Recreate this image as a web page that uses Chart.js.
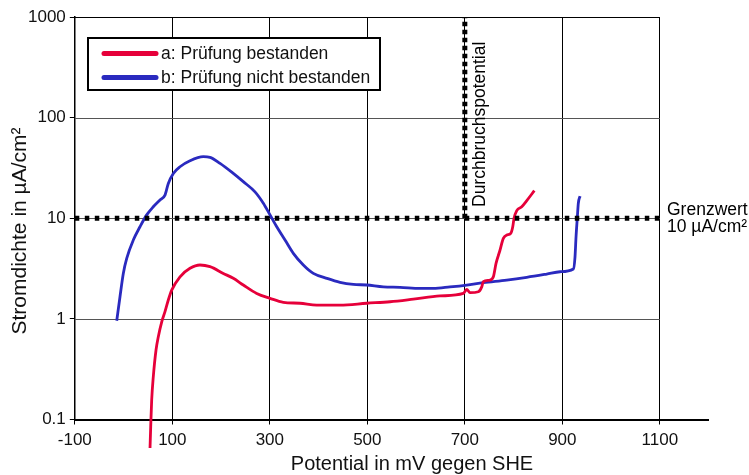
<!DOCTYPE html>
<html><head><meta charset="utf-8">
<script src="https://cdn.jsdelivr.net/npm/chart.js@4/dist/chart.umd.min.js"></script>
<style>html,body{margin:0;padding:0;background:#fff}#wrap{width:749px;height:475px;position:relative}</style>
</head><body><div id="wrap"><canvas id="c"></canvas></div>
<script>
// ---- data ----
const seriesLabels = ['a: Prüfung bestanden', 'b: Prüfung nicht bestanden'];
const aPotential = [54.3, 55.7, 57.7, 61.0, 66.6, 71.3, 78.3, 85.0, 91.8, 98.8, 115.8, 136.3, 156.8, 177.3, 204.6, 225.1, 245.6, 273.1, 300.4, 327.7, 361.9, 396.2, 444.0, 498.8, 546.6, 594.4, 649.1, 696.9, 703.9, 710.6, 727.7, 734.7, 737.9, 751.7, 758.5, 764.0, 771.5, 779.0, 786.0, 794.2, 798.3, 800.9, 806.5, 816.7, 828.2, 842.6];
const aCurrent   = [0.052, 0.085, 0.156, 0.266, 0.49, 0.664, 0.936, 1.18, 1.54, 1.93, 2.62, 3.18, 3.43, 3.30, 2.83, 2.53, 2.17, 1.79, 1.60, 1.46, 1.43, 1.37, 1.37, 1.43, 1.48, 1.57, 1.69, 1.79, 1.96, 1.82, 1.86, 2.08, 2.34, 2.43, 2.62, 3.56, 4.7, 6.31, 6.81, 7.08, 8.23, 9.97, 11.9, 13.0, 15.2, 18.8];
const bPotential = [-14.0, -7.3, -0.5, 6.5, 20.0, 33.7, 47.5, 61.0, 74.8, 85.0, 91.8, 102.1, 115.8, 136.3, 163.6, 177.3, 197.9, 225.1, 245.6, 269.6, 286.7, 300.4, 314.2, 331.2, 348.2, 368.7, 389.2, 416.7, 444.0, 471.3, 498.8, 532.8, 567.1, 608.1, 635.4, 669.5, 703.9, 737.9, 785.9, 827.0, 868.0, 895.3, 922.6, 926.0, 928.1, 930.8, 932.8, 936.3];
const bCurrent   = [0.957, 1.66, 2.83, 3.99, 6.07, 8.23, 10.8, 13.0, 15.2, 17.0, 22.2, 27.9, 32.5, 37.3, 40.9, 40.3, 35.1, 27.9, 23.1, 18.3, 14.1, 10.8, 8.23, 6.07, 4.48, 3.43, 2.83, 2.53, 2.31, 2.20, 2.17, 2.08, 2.06, 2.01, 2.01, 2.08, 2.17, 2.29, 2.43, 2.59, 2.79, 2.94, 3.13, 4.14, 6.55, 10.3, 14.1, 16.6];
const xTicks = [-100, 100, 300, 500, 700, 900, 1100];
const xMax = 1200;
const yTicks = [0.1, 1, 10, 100, 1000];
const yTickLabels = ['0.1', '1', '10', '100', '1000'];
const limitCurrent = 10;
const breakdownPotential = 700;
const xTitle = 'Potential in mV gegen SHE';
const yTitle = 'Stromdichte in µA/cm²';
const limitLabel = ['Grenzwert', '10 µA/cm²'];
const breakdownLabel = 'Durchbruchspotential';

const RED = '#E6003A', BLUE = '#2A2ABF';
const FONT = "'Liberation Sans', Arial, sans-serif";
Chart.defaults.font.family = FONT;
Chart.defaults.color = '#000';

const toPts = (xs, ys) => xs.map((v, i) => ({x: v, y: ys[i]}));

const decor = {
  id: 'decor',
  beforeDatasetsDraw(chart) {
    const {ctx, scales: {x, y}} = chart;
    const x0 = x.getPixelForValue(xTicks[0]);
    const x1 = x.getPixelForValue(xTicks[xTicks.length - 1]);
    ctx.save();
    yTicks.forEach((v, i) => {
      if (i === 0) return;
      const py = Math.round(y.getPixelForValue(v)) + 0.5;
      ctx.strokeStyle = v === yTicks[yTicks.length - 1] ? '#000' : '#555';
      ctx.lineWidth = 1;
      ctx.beginPath(); ctx.moveTo(x0, py); ctx.lineTo(x1, py); ctx.stroke();
    });
    ctx.restore();
  },
  afterDraw(chart) {
    const {ctx} = chart;
    ctx.save();
    // legend
    ctx.fillStyle = '#fff';
    ctx.fillRect(88, 38, 292, 52);
    ctx.strokeStyle = '#000'; ctx.lineWidth = 2;
    ctx.strokeRect(88, 38, 292, 52);
    const rows = [53.5, 77.5];
    chart.data.datasets.filter(d => d.label).forEach((d, i) => {
      ctx.strokeStyle = d.borderColor; ctx.lineWidth = 5; ctx.lineCap = 'round';
      ctx.beginPath(); ctx.moveTo(104, rows[i]); ctx.lineTo(156, rows[i]); ctx.stroke();
      ctx.fillStyle = '#111'; ctx.font = '17.5px ' + FONT;
      ctx.textAlign = 'left'; ctx.textBaseline = 'middle';
      ctx.fillText(d.label, 161, rows[i] + 1);
    });
    // annotations
    ctx.fillStyle = '#000';
    ctx.font = '17.5px ' + FONT;
    ctx.textBaseline = 'alphabetic'; ctx.textAlign = 'left';
    ctx.fillText(limitLabel[0], 667, 214.5);
    ctx.fillText(limitLabel[1], 667, 231.5);
    ctx.save();
    ctx.translate(485, 207); ctx.rotate(-Math.PI / 2);
    ctx.fillText(breakdownLabel, 0, 0);
    ctx.restore();
    // axis titles
    ctx.font = '20px ' + FONT; ctx.fillStyle = '#111';
    ctx.textAlign = 'center';
    ctx.fillText(xTitle, 412, 470);
    ctx.save();
    ctx.translate(26, 231); ctx.rotate(-Math.PI / 2);
    ctx.font = '21px ' + FONT;
    ctx.fillText(yTitle, 0, 0);
    ctx.restore();
    ctx.restore();
  }
};

new Chart(document.getElementById('c'), {
  type: 'line',
  data: {
    datasets: [
      {data: [{x: xTicks[0], y: limitCurrent}, {x: xTicks[xTicks.length - 1], y: limitCurrent}],
       borderColor: '#000', borderWidth: 5, borderDash: [4.5, 5.5], borderCapStyle: 'butt', pointRadius: 0, tension: 0},
      {data: [{x: breakdownPotential, y: limitCurrent}, {x: breakdownPotential, y: yTicks[yTicks.length - 1]}],
       borderColor: '#000', borderWidth: 5, borderDash: [4.5, 3.5], borderCapStyle: 'butt', pointRadius: 0, tension: 0},
      {label: seriesLabels[0], data: toPts(aPotential, aCurrent), borderColor: RED, borderWidth: 2.8,
       pointRadius: 0, cubicInterpolationMode: 'monotone', clip: false},
      {label: seriesLabels[1], data: toPts(bPotential, bCurrent), borderColor: BLUE, borderWidth: 2.8,
       pointRadius: 0, cubicInterpolationMode: 'monotone'}
    ]
  },
  options: {
    responsive: true, maintainAspectRatio: false, animation: false,
    layout: {padding: {top: 17, right: 40.4, bottom: 0, left: 0}},
    plugins: {legend: {display: false}, tooltip: {enabled: false}},
    scales: {
      x: {
        type: 'linear', min: xTicks[0], max: xMax,
        afterBuildTicks: s => { s.ticks = xTicks.map(v => ({value: v})); },
        afterFit: s => { s.height = 55.5; },
        ticks: {font: {size: 17}, color: '#111', padding: 6, maxRotation: 0, callback: v => String(v)},
        grid: {color: '#000', lineWidth: 1, drawTicks: true, tickLength: 5, tickColor: '#000'},
        border: {color: '#000', width: 2}
      },
      y: {
        type: 'logarithmic', min: yTicks[0], max: yTicks[yTicks.length - 1],
        afterBuildTicks: s => { s.ticks = yTicks.map(v => ({value: v})); },
        afterFit: s => { s.width = 74.8; },
        ticks: {font: {size: 17}, color: '#111', padding: 4,
                callback: (v) => yTickLabels[yTicks.indexOf(v)] ?? ''},
        grid: {drawOnChartArea: false, drawTicks: true, tickLength: 5, tickColor: '#000'},
        border: {color: '#000', width: 1.5}
      }
    }
  },
  plugins: [decor]
});
</script></body></html>
